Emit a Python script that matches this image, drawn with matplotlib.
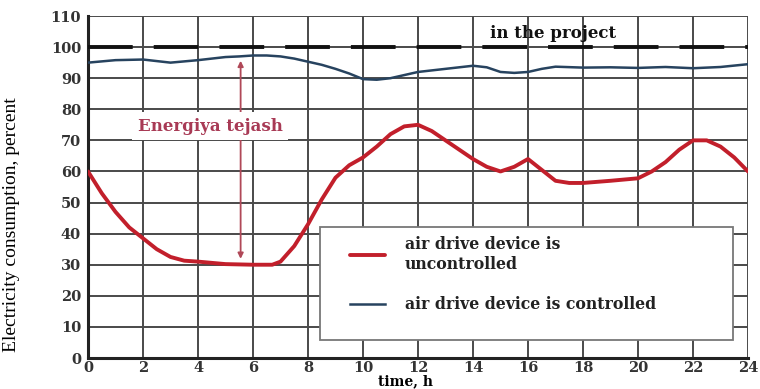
import matplotlib
matplotlib.use("Agg")
import matplotlib.pyplot as plt
from matplotlib.patches import Rectangle

# Data
hours_red = [0, 0.5, 1, 1.5, 2, 2.5, 3, 3.5, 4, 5, 6, 6.7, 7, 7.5, 8, 8.5, 9, 9.5, 10, 10.5, 11, 11.5, 12,
             12.5, 13, 13.5, 14, 14.5, 15, 15.5, 16, 16.5, 17, 17.5, 18, 19, 20, 20.5, 21, 21.5, 22, 22.5, 23, 23.5, 24]
uncontrolled = [60, 53, 47, 42, 38.5, 35, 32.5, 31.3, 31, 30.2, 30, 30, 31, 36, 43, 51, 58, 62, 64.5, 68, 72, 74.5, 75,
                73, 70, 67, 64, 61.5, 60, 61.5, 64, 60.5, 57, 56.3, 56.3, 57, 57.8, 60, 63, 67, 70, 70, 68, 64.5, 60]

hours_blue = [0, 1, 2, 3, 4, 5, 5.5, 6, 6.5, 7, 7.5, 8, 8.5, 9, 9.5, 10, 10.5, 11, 11.5, 12, 13, 14, 14.5, 15, 15.5, 16,
              16.5, 17, 18, 19, 20, 21, 22, 23, 24]
controlled = [95, 95.8, 96, 95, 95.8, 96.8, 97, 97.3, 97.3, 97, 96.3, 95.3, 94.3, 93, 91.5, 89.7, 89.5, 90, 91, 92, 93,
              94, 93.5, 92, 91.7, 92, 93, 93.7, 93.4, 93.5, 93.3, 93.6, 93.2, 93.6, 94.5]

project_hours = [0, 24]
project_level = [100, 100]

x_ticks = list(range(0, 25, 2))
y_ticks = list(range(0, 111, 10))

serif = ["Liberation Serif", "DejaVu Serif"]
wide = ["DejaVu Serif"]

fig = plt.figure(figsize=(7.6, 3.89), dpi=100)
ax = fig.add_axes([88 / 760, 1 - 358 / 389, (748 - 88) / 760, (358 - 16) / 389])

ax.set_xlim(0, 24)
ax.set_ylim(0, 110)
ax.set_xticks(x_ticks)
ax.set_yticks(y_ticks)
ax.grid(True, color="#4a4a4a", linewidth=1.4)
ax.set_axisbelow(True)
for s in ["top", "right"]:
    ax.spines[s].set_visible(False)
for s in ["left", "bottom"]:
    ax.spines[s].set_linewidth(2.2)
    ax.spines[s].set_color("#222222")
ax.tick_params(axis="x", length=0, pad=2)
ax.tick_params(axis="y", length=0, pad=5)
for lab in ax.get_xticklabels() + ax.get_yticklabels():
    lab.set_fontfamily(wide)
    lab.set_fontweight("bold")
    lab.set_fontsize(10.5)
    lab.set_color("#333333")

ax.plot(project_hours, project_level, color="#111111", linewidth=2.8, dashes=(11.5, 5.4), zorder=3)
l1, = ax.plot(hours_red, uncontrolled, color="#c21f2b", linewidth=2.8, solid_capstyle="round", zorder=4,
              label="air drive device is\nuncontrolled")
l2, = ax.plot(hours_blue, controlled, color="#27435f", linewidth=1.8, zorder=4,
              label="air drive device is controlled")

# double arrow annotation
ax.annotate("", xy=(5.55, 96.5), xytext=(5.55, 31),
            arrowprops=dict(arrowstyle="<|-|>", color="#b04858", lw=1.3, mutation_scale=8), zorder=2)
ax.text(4.44, 74.6, "Energiya tejash", family=wide, fontweight="bold", fontsize=12, color="#a83a55",
        ha="center", va="center", bbox=dict(facecolor="white", edgecolor="none", pad=4), zorder=3)
ax.text(16.9, 104.5, "in the project", family=wide, fontweight="bold", fontsize=12, color="#111111",
        ha="center", va="center", zorder=5)

ax.set_xlabel("time, h", family=wide, fontweight="bold", fontsize=10)
ax.xaxis.set_label_coords((405 - 88) / 660, -0.047)
ax.set_ylabel("Electricity consumption, percent", family=serif, fontsize=14)
ax.yaxis.set_label_coords(-0.103, (358 - 225) / 342)

# legend box
ax.add_patch(Rectangle(((320 - 88) / 660, (358 - 340) / 342), (733 - 320) / 660, (340 - 227) / 342,
                       transform=ax.transAxes, facecolor="white", edgecolor="#777777", linewidth=1.3, zorder=5))
leg = ax.legend(handles=[l1, l2], loc="upper left",
                bbox_to_anchor=((350 - 88) / 660, (358 - 236) / 342),
                frameon=False, borderaxespad=0,
                prop=dict(family=wide, weight="bold", size=11.3), handlelength=2.2,
                labelspacing=1.5, borderpad=0, handletextpad=1.3)
leg.set_zorder(6)
for t in leg.get_texts():
    t.set_color("#222222")

fig.savefig("out.png", dpi=100)
